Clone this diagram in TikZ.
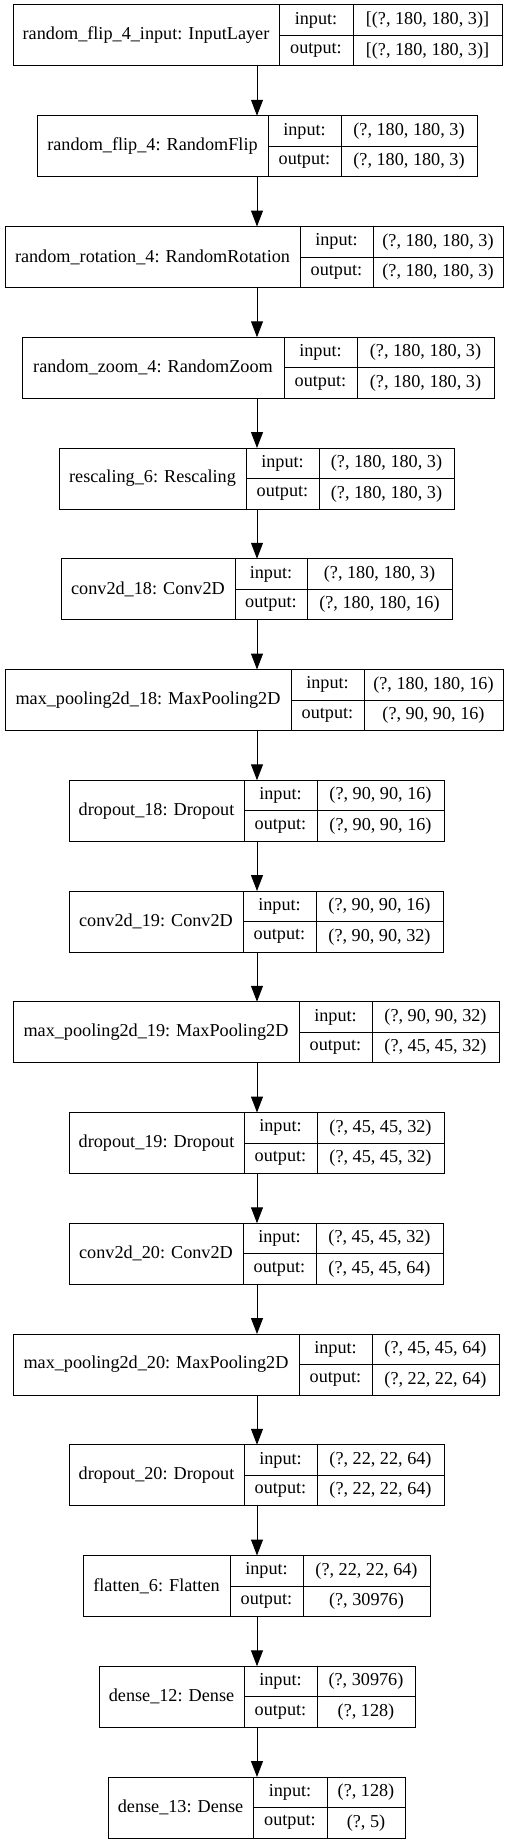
\documentclass[tikz,border=0pt]{standalone}
\usepackage{fontspec}
\setmainfont{Liberation Serif}
\usetikzlibrary{arrows.meta}
\tikzset{
  cellbox/.style={draw=black, line width=1pt, inner sep=0pt, outer sep=0pt, rectangle},
  outerbox/.style={inner sep=0pt, outer sep=0pt, rectangle},
  txt/.style={font=\fontsize{18.2}{21}\selectfont},
  arr/.style={line width=1pt, -{Triangle[length=16pt,width=12pt]}}
}
\newcommand\layerbox[9]{%
  \pgfmathsetmacro\ytop{-(5+#2*110.75)}%
  \pgfmathsetmacro\ymid{\ytop-30.5}%
  \pgfmathsetmacro\yin{\ytop-15.25}%
  \pgfmathsetmacro\yout{\ytop-45.75}%
  \node[outerbox, minimum width={(#6-#3)*1pt}, minimum height=61pt] (#1) at ({(#3+#6)/2},\ymid) {};
  \node[cellbox, txt, minimum width={(#4-#3)*1pt}, minimum height=61pt] (#1name) at ({(#3+#4)/2},\ymid) {#7};
  \node[cellbox, txt, minimum width={(#5-#4)*1pt}, minimum height=30.5pt] (#1pi) at ({(#4+#5)/2},\yin) {input:};
  \node[cellbox, txt, minimum width={(#5-#4)*1pt}, minimum height=30.5pt] (#1po) at ({(#4+#5)/2},\yout) {output:};
  \node[cellbox, txt, minimum width={(#6-#5)*1pt}, minimum height=30.5pt] (#1vi) at ({(#5+#6)/2},\yin) {#8};
  \node[cellbox, txt, minimum width={(#6-#5)*1pt}, minimum height=30.5pt] (#1vo) at ({(#5+#6)/2},\yout) {#9};
}
\begin{document}
\begin{tikzpicture}[x=1pt,y=1pt]
\useasboundingbox (0,0) rectangle (513,-1844);
\coordinate (ax) at (257,0);
\layerbox{L0}{0}{13}{279}{353}{502}{random\_flip\_4\_input: InputLayer}{[(?, 180, 180, 3)]}{[(?, 180, 180, 3)]}
\layerbox{L1}{1}{37}{268}{341}{477}{random\_flip\_4: RandomFlip}{(?, 180, 180, 3)}{(?, 180, 180, 3)}
\layerbox{L2}{2}{5}{300}{373}{503}{random\_rotation\_4: RandomRotation}{(?, 180, 180, 3)}{(?, 180, 180, 3)}
\layerbox{L3}{3}{22}{284}{357}{494}{random\_zoom\_4: RandomZoom}{(?, 180, 180, 3)}{(?, 180, 180, 3)}
\layerbox{L4}{4}{59}{246}{319}{454}{rescaling\_6: Rescaling}{(?, 180, 180, 3)}{(?, 180, 180, 3)}
\layerbox{L5}{5}{61}{235}{307}{452}{conv2d\_18: Conv2D}{(?, 180, 180, 3)}{(?, 180, 180, 16)}
\layerbox{L6}{6}{5}{291}{364}{503}{max\_pooling2d\_18: MaxPooling2D}{(?, 180, 180, 16)}{(?, 90, 90, 16)}
\layerbox{L7}{7}{69}{244}{317}{444}{dropout\_18: Dropout}{(?, 90, 90, 16)}{(?, 90, 90, 16)}
\layerbox{L8}{8}{69}{243}{316}{443}{conv2d\_19: Conv2D}{(?, 90, 90, 16)}{(?, 90, 90, 32)}
\layerbox{L9}{9}{13}{299}{372}{499}{max\_pooling2d\_19: MaxPooling2D}{(?, 90, 90, 32)}{(?, 45, 45, 32)}
\layerbox{L10}{10}{69}{244}{317}{444}{dropout\_19: Dropout}{(?, 45, 45, 32)}{(?, 45, 45, 32)}
\layerbox{L11}{11}{69}{243}{316}{443}{conv2d\_20: Conv2D}{(?, 45, 45, 32)}{(?, 45, 45, 64)}
\layerbox{L12}{12}{13}{299}{372}{499}{max\_pooling2d\_20: MaxPooling2D}{(?, 45, 45, 64)}{(?, 22, 22, 64)}
\layerbox{L13}{13}{69}{244}{317}{444}{dropout\_20: Dropout}{(?, 22, 22, 64)}{(?, 22, 22, 64)}
\layerbox{L14}{14}{83}{230}{303}{430}{flatten\_6: Flatten}{(?, 22, 22, 64)}{(?, 30976)}
\layerbox{L15}{15}{99}{244}{317}{415}{dense\_12: Dense}{(?, 30976)}{(?, 128)}
\layerbox{L16}{16}{108}{253}{327}{405}{dense\_13: Dense}{(?, 128)}{(?, 5)}
\foreach \a/\b in {L0/L1,L1/L2,L2/L3,L3/L4,L4/L5,L5/L6,L6/L7,L7/L8,L8/L9,L9/L10,L10/L11,L11/L12,L12/L13,L13/L14,L14/L15,L15/L16}
  \draw[arr] (\a.south -| ax) -- (\b.north -| ax);
\end{tikzpicture}
\end{document}
